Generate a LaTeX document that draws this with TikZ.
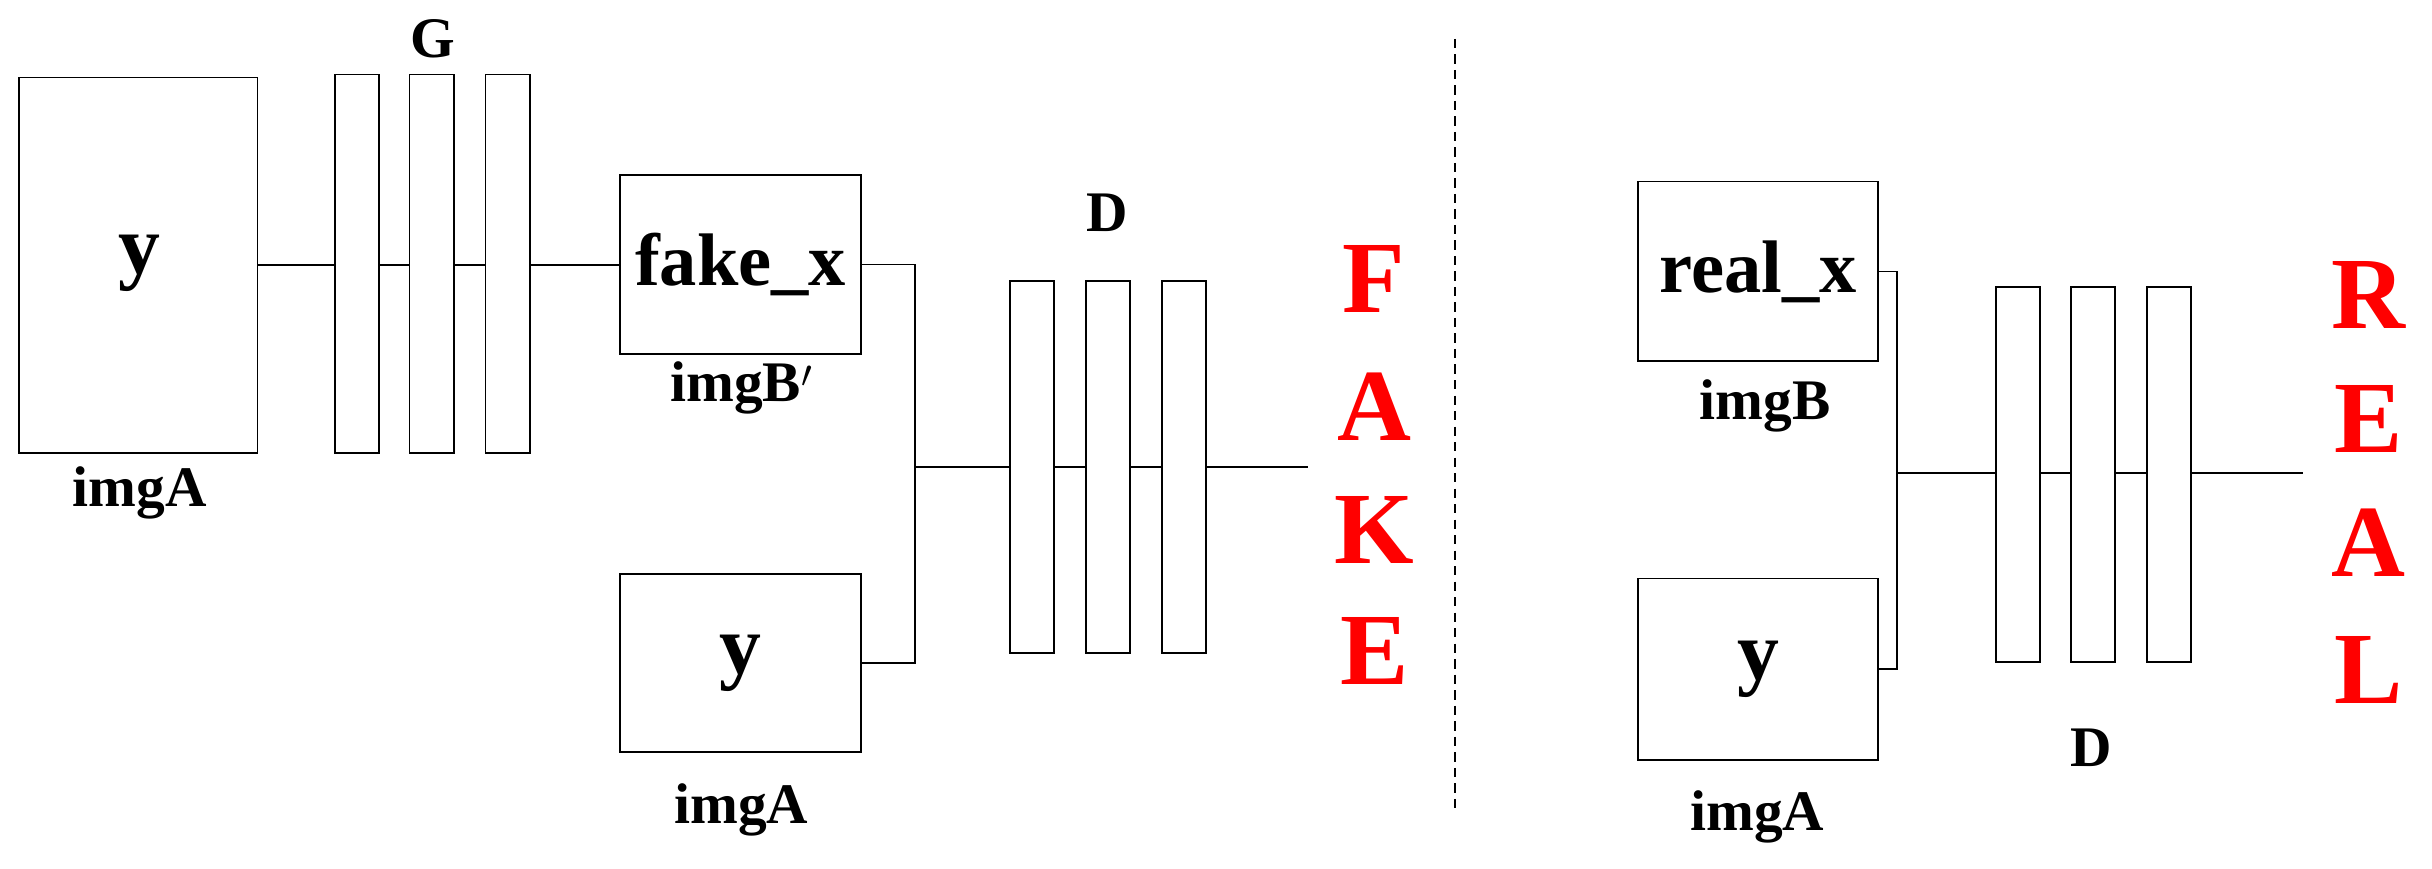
\documentclass[tikz,border=0pt]{standalone}
\usepackage{fontspec}
\setmainfont{Liberation Serif}
\begin{document}
\begin{tikzpicture}[x=1pt,y=-1pt,line width=1.2pt,
 txt/.style={font=\fontsize{37}{39}\selectfont\bfseries},
 big/.style={font=\fontsize{54}{56}\selectfont\bfseries},
 mid/.style={font=\fontsize{48}{50}\selectfont\bfseries},
 red/.style={text=red,font=\fontsize{66}{68}\selectfont\bfseries}]
\useasboundingbox (0,0) rectangle (1568,560);
% left G
\draw (12,50) rectangle (166,292);
\node[big] at (90,170) {y};
\node[txt] (la) at (90,318) {imgA};
\coordinate (g1) at (166,171);
\coordinate (g2) at (400,171);
\draw (g1) -- (g2);
\foreach \x in {216,264,313}{\draw[fill=white] (\x,48) rectangle ++(28.5,244);}
\node[txt] at (279,25) {G};
% fake_x
\node[draw,minimum width=155pt,minimum height=115pt,inner sep=0,mid] (fx) at (477.5,170.5) {fake\_x};
\node[txt] at (478,250) {imgB$'$};
\node[draw,minimum width=155pt,minimum height=115pt,inner sep=0,big] (y1) at (477.5,427.5) {y};
\node[txt] at (478,522) {imgA};
\draw (fx.east) -- (590,170.5) -- (590,427.5) -- (y1.east);
\coordinate (o1) at (843,301);
\draw (590,301) -- (o1);
\foreach \x in {651,700,749}{\draw[fill=white] (\x,181) rectangle ++(28.5,240);}
\node[txt] at (714,137) {D};
\foreach \l/\yy in {F/180,A/262,K/342,E/420}{\node[red] at (886,\yy) {\l};}
\draw[dash pattern=on 6pt off 4pt,line width=0.9pt] (938,25) -- (938,523);
% right
\node[draw,minimum width=155pt,minimum height=116pt,inner sep=0,mid] (rx) at (1133.5,175) {real\_x};
\node[txt] at (1138,262) {imgB};
\node[draw,minimum width=155pt,minimum height=117pt,inner sep=0,big] (y2) at (1133.5,431.5) {y};
\node[txt] at (1133,527) {imgA};
\draw (rx.east) -- (1223,175) -- (1223,431.5) -- (y2.east);
\coordinate (o2) at (1485,305);
\draw (1223,305) -- (o2);
\foreach \x in {1287,1335,1384}{\draw[fill=white] (\x,185) rectangle ++(28.5,242);}
\node[txt] at (1348,482) {D};
\foreach \l/\yy in {R/190,E/270,A/350,L/432}{\node[red] at (1527,\yy) {\l};}
\end{tikzpicture}
\end{document}
